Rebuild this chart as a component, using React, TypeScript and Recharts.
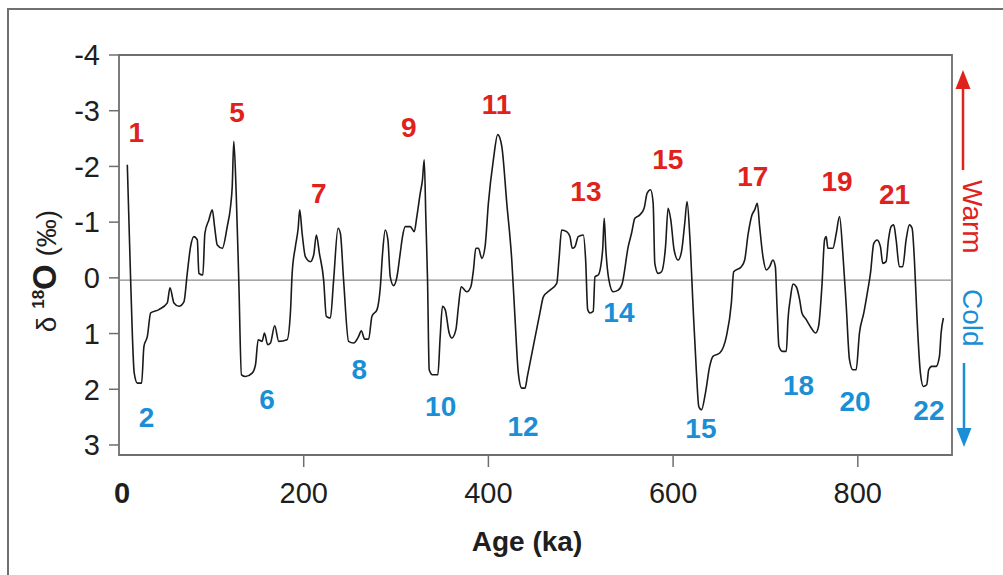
import React from "react";
import {
  LineChart,
  Line,
  XAxis,
  YAxis,
  ReferenceLine,
  ReferenceArea,
  ReferenceDot,
} from "recharts";

// Benthic oxygen isotope stack, age in ka
const ages = [
  9, 12.6, 16.5, 19.9, 24.5, 27, 30.7, 34.3, 43.2, 52.3, 55.2, 59.5, 64.9, 70.3, 73.9, 77.5, 81.1, 84.8, 86.5,
  90.8, 93, 97.3, 101, 103.5, 106.4, 111.8, 117.2, 120.8, 122.6, 124.3, 126.9, 129.7, 132.6, 137, 144.2, 147.8,
  150.7, 155, 157.5, 161, 164, 168.6, 173, 182, 185.6, 187.5, 191, 194, 195.7, 198.3, 201.8, 207.2, 210.8, 213.7,
  217, 221.6, 224.5, 228.9, 232.4, 237.2, 239.7, 243.2, 248.6, 254, 259.5, 262.4, 266, 270.3, 273.9, 279.4, 283,
  285.4, 288.3, 291.2, 293.7, 297.3, 301, 304.5, 307, 309.9, 315.4, 319.7, 322.5, 326.2, 328.6, 330.5, 332.3,
  334.1, 335.9, 339.5, 345.3, 347.8, 350.3, 353.2, 357.5, 360.4, 364.8, 367.6, 370.5, 376.6, 381, 383.8, 386.4,
  389.2, 392.9, 396.4, 400, 405.4, 410.1, 414.5, 419.9, 425.3, 428.9, 432.4, 436.1, 439.7, 442.2, 448.6, 455.9,
  459.5, 466.7, 474, 476.4, 479.3, 484.7, 488.3, 490.8, 493.7, 497.3, 502.7, 505.3, 507.5, 510, 513.5, 515.4,
  518.9, 523.7, 525.4, 527.2, 530.5, 535.1, 540.5, 544.9, 551.4, 555, 558.6, 564, 568.6, 571.9, 575.6, 578.4,
  580.2, 583.8, 587.5, 591.8, 594.6, 597.5, 601.1, 605.4, 609.1, 612.6, 615.1, 618.1, 621.6, 625.3, 627.8, 630.7,
  635, 639.6, 643.2, 650.5, 657.7, 663.1, 665.6, 673.9, 677.5, 681.1, 685.4, 688.3, 691.2, 693.7, 697.3, 701,
  704.5, 708.1, 710.7, 712.5, 714.6, 718.3, 722.6, 724.4, 727.2, 729.8, 733.4, 737, 739.5, 744.2, 749.6, 754.3,
  757.5, 761.1, 764, 765.8, 767.6, 773, 776.7, 780.2, 783.8, 787.5, 791, 794.6, 798.2, 801.8, 806.5, 810.8, 813.7,
  817.3, 820.9, 824.5, 827, 830.6, 833.2, 836.1, 838.9, 841.5, 845, 848.6, 852.3, 855.9, 858.8, 861.3, 864.2,
  867.8, 871, 874.6, 876.8, 880.1, 884.8, 888.4, 890.2, 892.7,
];

const d18O = [
  -2.03, 0.04, 1.71, 1.89, 1.89, 1.23, 1.05, 0.63, 0.57, 0.45, 0.18, 0.45, 0.51, 0.43, -0.08, -0.56, -0.74, -0.68,
  -0.08, -0.05, -0.8, -1.04, -1.22, -0.92, -0.59, -0.53, -0.92, -1.28, -1.64, -2.45, -1.52, 0.04, 1.74, 1.77, 1.71,
  1.56, 1.11, 1.14, 0.99, 1.2, 1.17, 0.86, 1.14, 1.11, 0.63, -0.08, -0.56, -0.89, -1.22, -0.8, -0.38, -0.29, -0.41,
  -0.77, -0.44, 0.04, 0.69, 0.72, 0.04, -0.89, -0.8, 0.04, 1.14, 1.17, 1.05, 0.95, 1.1, 1.1, 0.69, 0.57, 0.16,
  -0.44, -0.86, -0.68, -0.02, 0.14, -0.02, -0.44, -0.74, -0.92, -0.92, -0.83, -1.1, -1.52, -1.76, -2.12, -1.05,
  0.04, 1.65, 1.74, 1.74, 1.05, 0.51, 0.57, 0.99, 1.08, 0.93, 0.51, 0.16, 0.25, 0.16, -0.14, -0.53, -0.53, -0.35,
  -0.56, -1.34, -2.12, -2.57, -2.36, -1.34, -0.32, 0.75, 1.71, 1.98, 1.98, 1.77, 1.23, 0.62, 0.34, 0.22, 0.1,
  -0.32, -0.86, -0.83, -0.74, -0.53, -0.56, -0.74, -0.77, -0.32, 0.57, 0.63, 0.6, -0.02, -0.05, -0.5, -1.07, -0.5,
  0.04, 0.25, 0.22, 0.1, -0.56, -0.8, -1.07, -1.13, -1.25, -1.52, -1.58, -1.34, -0.26, -0.08, -0.11, -0.56, -1.25,
  -1.04, -0.5, -0.32, -0.47, -0.98, -1.37, -0.74, 0.51, 1.71, 2.31, 2.37, 2.07, 1.59, 1.41, 1.35, 1.05, 0.45,
  -0.11, -0.2, -0.32, -0.77, -1.13, -1.22, -1.34, -0.92, -0.38, -0.14, -0.2, -0.32, -0.2, 0.51, 1.23, 1.32, 1.32,
  0.75, 0.34, 0.11, 0.16, 0.39, 0.63, 0.75, 0.9, 0.99, 0.87, 0.16, -0.68, -0.74, -0.53, -0.53, -0.8, -1.1, -0.44,
  0.51, 1.47, 1.65, 1.65, 0.99, 0.63, 0.22, -0.08, -0.62, -0.68, -0.56, -0.26, -0.29, -0.68, -0.92, -0.95, -0.68,
  -0.2, -0.2, -0.68, -0.95, -0.89, -0.32, 0.75, 1.71, 1.95, 1.92, 1.65, 1.59, 1.59, 1.41, 0.99, 0.72,
];

// Marine isotope stage labels (warm = odd, cold = even)
const warmStages = ["1", "5", "7", "9", "11", "13", "15", "17", "19", "21"];
const warmAges = [18.6, 127.8, 216.4, 313.7, 408.9, 505.6, 594.3, 686.2, 777.5, 839.7];
const warmLevels = [-2.62, -2.98, -1.53, -2.71, -3.12, -1.56, -2.14, -1.83, -1.73, -1.51];

const coldStages = ["2", "6", "8", "10", "12", "14", "15", "18", "20", "22"];
const coldAges = [29.9, 160.4, 260.2, 348.3, 437.5, 541.3, 630.1, 735.9, 797, 877];
const coldLevels = [2.5, 2.17, 1.63, 2.3, 2.66, 0.62, 2.69, 1.92, 2.21, 2.38];

const xTicks = [0, 200, 400, 600, 800];
const yTicks = [-4, -3, -2, -1, 0, 1, 2, 3];

const X_MAX = 902;
const Y_MIN = -4;
const Y_MAX = 3.18;

const RED = "#e0221d";
const BLUE = "#1b8fd6";
const FRAME = "#6e6e6e";
const FONT = "'Liberation Sans', Arial, Helvetica, sans-serif";

const data = ages.map((age, i) => ({ age, d18O: d18O[i] }));

// x tick: bold "0" without a tick mark, the rest with a short mark below the frame
function AgeTick(props: any) {
  const { x, y, payload } = props;
  const isZero = payload.value === 0;
  return (
    <g>
      {!isZero && <line x1={x} x2={x} y1={y - 27} y2={y - 15} stroke={FRAME} strokeWidth={1.5} />}
      <text
        x={x + (isZero ? 3 : 0)}
        y={y}
        dy="0.71em"
        textAnchor="middle"
        fill="#1e1e1e"
        fontSize={29}
        fontWeight={isZero ? 700 : 400}
      >
        {payload.value}
      </text>
    </g>
  );
}

export default function App() {
  return (
    <div
      style={{
        position: "absolute",
        left: 0,
        top: 0,
        width: 1003,
        height: 575,
        overflow: "hidden",
        background: "#fff",
        fontFamily: FONT,
      }}
    >
      {/* outer figure border */}
      <div
        style={{
          position: "absolute",
          left: 7,
          top: 8,
          width: 1100,
          height: 700,
          borderTop: "2.5px solid #707070",
          borderLeft: "2.5px solid #707070",
        }}
      />
      <div style={{ position: "absolute", left: 0, top: 0 }}>
        <LineChart width={1003} height={575} data={data} margin={{ top: 55, right: 51, bottom: 60, left: 59 }}>
          <XAxis
            dataKey="age"
            type="number"
            domain={[0, X_MAX]}
            ticks={xTicks}
            allowDataOverflow
            axisLine={false}
            tickLine={false}
            tickSize={12}
            tickMargin={15}
            height={60}
            tick={<AgeTick />}
          />
          <YAxis
            type="number"
            domain={[Y_MIN, Y_MAX]}
            ticks={yTicks}
            reversed
            allowDataOverflow
            width={60}
            axisLine={false}
            tickLine={{ stroke: FRAME, strokeWidth: 1.5 }}
            tickSize={10}
            tickMargin={9}
            tick={{ fill: "#1e1e1e", fontSize: 29 }}
          />
          <ReferenceArea
            x1={0}
            x2={X_MAX}
            y1={Y_MIN}
            y2={Y_MAX}
            fill="none"
            fillOpacity={0}
            stroke={FRAME}
            strokeWidth={1.8}
            ifOverflow="visible"
          />
          <ReferenceLine y={0.04} stroke="#8a8a8a" strokeWidth={1.2} />
          <Line
            type="monotone"
            dataKey="d18O"
            stroke="#1a1a1a"
            strokeWidth={1.6}
            dot={false}
            isAnimationActive={false}
          />
          {warmStages.map((s, i) => (
            <ReferenceDot
              key={`w-${i}`}
              x={warmAges[i]}
              y={warmLevels[i]}
              r={0}
              fill="none"
              stroke="none"
              label={{ value: s, position: "center", fill: RED, fontSize: 28, fontWeight: 700 }}
            />
          ))}
          {coldStages.map((s, i) => (
            <ReferenceDot
              key={`c-${i}`}
              x={coldAges[i]}
              y={coldLevels[i]}
              r={0}
              fill="none"
              stroke="none"
              label={{ value: s, position: "center", fill: BLUE, fontSize: 28, fontWeight: 700 }}
            />
          ))}
        </LineChart>
      </div>
      {/* axis titles and warm/cold arrows */}
      <svg
        width={1003}
        height={575}
        style={{ position: "absolute", left: 0, top: 0, pointerEvents: "none", fontFamily: FONT }}
      >
        <text transform="rotate(-90, 56, 271)" x={56} y={271} textAnchor="middle" fill="#1e1e1e">
          <tspan fontSize={28}>δ </tspan>
          <tspan fontSize={17} fontWeight={700} dy={-12}>
            18
          </tspan>
          <tspan fontSize={33} fontWeight={700} dy={12}>
            O
          </tspan>
          <tspan fontSize={28}> (‰)</tspan>
        </text>
        <text x={527} y={551} textAnchor="middle" fontSize={28} fontWeight={700} fill="#1e1e1e">
          Age (ka)
        </text>

        <line x1={963} x2={963} y1={170} y2={86} stroke={RED} strokeWidth={2.5} />
        <polygon points="963,70 955.5,89 970.5,89" fill={RED} />
        <text transform="rotate(90, 963, 180)" x={963} y={180} fontSize={28} fill={RED}>
          Warm
        </text>

        <text transform="rotate(90, 963, 289)" x={963} y={289} fontSize={28} fill={BLUE}>
          Cold
        </text>
        <line x1={964} x2={964} y1={363} y2={431} stroke={BLUE} strokeWidth={2.5} />
        <polygon points="964,447 956.5,428 971.5,428" fill={BLUE} />
      </svg>
    </div>
  );
}
